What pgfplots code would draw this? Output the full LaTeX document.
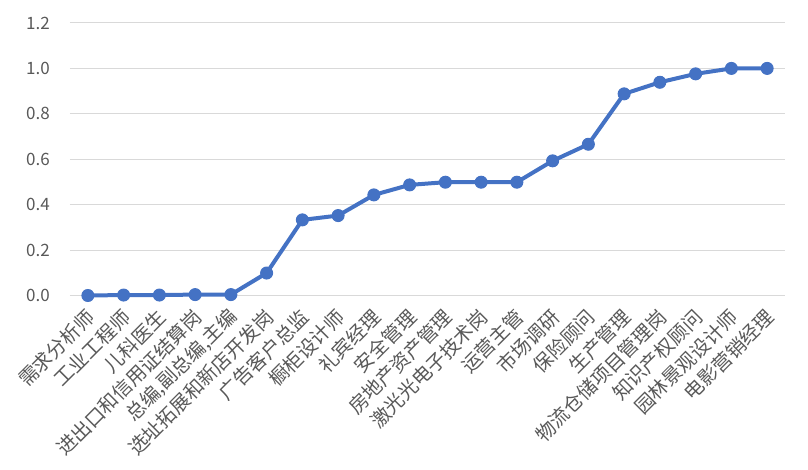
\documentclass[border=0pt]{standalone}
\usepackage{pgfplots}
\pgfplotsset{compat=1.18}
\usepackage{fontspec}
\setmainfont{Noto Sans CJK SC}
\definecolor{lineblue}{HTML}{4472C4}
\definecolor{gridgray}{HTML}{D9D9D9}
\definecolor{textgray}{HTML}{595959}
\begin{document}
\begin{tikzpicture}
\begin{axis}[
  scale only axis,
  width=715bp, height=272.5bp,
  xmin=-0.5, xmax=19.5,
  ymin=0, ymax=1.2,
  ytick={0,0.2,...,1.2},
  xtick={0,...,19},
  xticklabels={需求分析师,工业工程师,儿科医生,进出口和信用证结算岗,{总编,副总编,主编},选址拓展和新店开发岗,广告客户总监,橱柜设计师,礼宾经理,安全管理,房地产资产管理,激光光电子技术岗,运营主管,市场调研,保险顾问,生产管理,物流仓储项目管理岗,知识产权顾问,园林景观设计师,电影营销经理},
  axis line style={draw=none},
  major tick length=0pt,
  ymajorgrids,
  grid style={gridgray, line width=1bp},
  yticklabel style={/pgf/number format/fixed, /pgf/number format/fixed zerofill, /pgf/number format/precision=1, inner sep=0pt, xshift=-20bp, font=\fontsize{17bp}{20bp}\selectfont},
  /pgf/number format/assume math mode=true,
  tick label style={text=textgray},
  xticklabel style={rotate=45, anchor=east, inner sep=0pt, xshift=-10.5bp, yshift=-15bp, font=\fontsize{19.5bp}{21bp}\selectfont},
  clip=false,
]
\addplot[color=lineblue, line width=4bp, mark=*, mark size=6bp, mark options={fill=lineblue, draw=lineblue, line width=1bp}]
coordinates {
(0,0.000) (1,0.002) (2,0.002) (3,0.004) (4,0.004) (5,0.099) (6,0.333) (7,0.352) (8,0.443) (9,0.487)
(10,0.499) (11,0.499) (12,0.499) (13,0.593) (14,0.666) (15,0.888) (16,0.939) (17,0.976) (18,1.000) (19,1.000)
};
\end{axis}
\pgfresetboundingbox
\path[use as bounding box] (-70bp,-174.5bp) rectangle (738bp,295.5bp);
\end{tikzpicture}
\end{document}
